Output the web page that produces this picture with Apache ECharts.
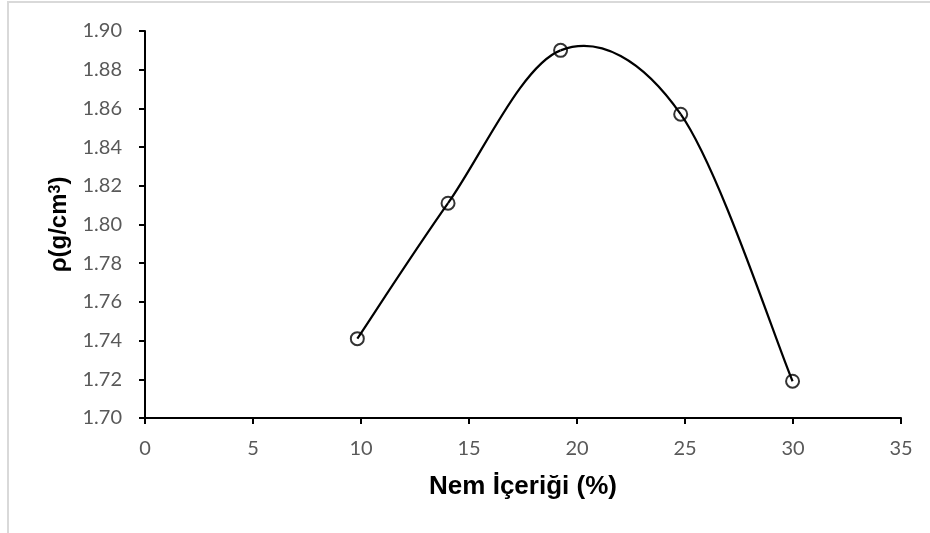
<!DOCTYPE html>
<html>
<head>
<meta charset="utf-8">
<script src="https://cdn.jsdelivr.net/npm/echarts@6/dist/echarts.min.js"></script>
<style>
  html, body { margin: 0; padding: 0; background: #fff; }
  #chart { width: 930px; height: 533px; }
</style>
</head>
<body>
<div id="chart"></div>
<script>
// nem içeriği (%) ve yoğunluk
var nem = [9.83, 14.03, 19.24, 24.8, 29.98];
var yogunluk = [1.741, 1.811, 1.890, 1.857, 1.719];
var xTitle = 'Nem İçeriği (%)';
var yTitle = '{b|ρ(g/cm}{s|3}{b|)}';

function drawChart(){
    var myChart = echarts.init(document.getElementById('chart'));
    var pts = [];
    for (var i = 0; i < nem.length; i++) {
        pts.push([nem[i], yogunluk[i]]);
    }
    var labelFont = { color: '#595959', fontSize: 20, fontFamily: 'Lato, "Open Sans", sans-serif' };
    var titleFont = '"Liberation Sans", Arial, sans-serif';

    // Excel tarzı yumuşak eğri: her parça için Catmull-Rom bezier
    function egri(params, api){
        var i = params.dataIndex;
        var n = pts.length;
        if (i >= n - 1) return null;
        var p0 = api.coord(pts[Math.max(i - 1, 0)]);
        var p1 = api.coord(pts[i]);
        var p2 = api.coord(pts[i + 1]);
        var p3 = api.coord(pts[Math.min(i + 2, n - 1)]);
        return {
            type: 'bezierCurve',
            shape: {
                x1: p1[0], y1: p1[1],
                x2: p2[0], y2: p2[1],
                cpx1: p1[0] + (p2[0] - p0[0]) / 6,
                cpy1: p1[1] + (p2[1] - p0[1]) / 6,
                cpx2: p2[0] - (p3[0] - p1[0]) / 6,
                cpy2: p2[1] - (p3[1] - p1[1]) / 6
            },
            style: { stroke: '#000', lineWidth: 2.2, fill: null }
        };
    }

    var option = {
        backgroundColor: '#fff',
        animation: false,
        graphic: [{
            type: 'rect',
            shape: { x: 8, y: 2, width: 960, height: 600 },
            style: { fill: 'none', stroke: '#d9d9d9', lineWidth: 2 },
            silent: true
        }],
        grid: { left: 145, right: 29, top: 31, bottom: 115 },
        xAxis: {
            type: 'value',
            min: 0, max: 35, interval: 5,
            name: xTitle,
            nameLocation: 'middle',
            nameGap: 56,
            nameTextStyle: { color: '#000', fontSize: 26, fontWeight: 'bold', fontFamily: titleFont },
            axisLine: { lineStyle: { color: '#000', width: 2 } },
            axisTick: { show: true, length: 6, lineStyle: { color: '#000', width: 2 } },
            axisLabel: Object.assign({ margin: 21 }, labelFont),
            splitLine: { show: false }
        },
        yAxis: {
            type: 'value',
            min: 1.70, max: 1.90, interval: 0.02,
            name: yTitle,
            nameLocation: 'middle',
            nameGap: 73,
            nameTextStyle: {
                color: '#000', fontFamily: titleFont,
                rich: {
                    b: { fontSize: 24, fontWeight: 'bold', fontFamily: titleFont, color: '#000' },
                    s: { fontSize: 16, fontWeight: 'bold', fontFamily: titleFont, color: '#000', verticalAlign: 'top', padding: [0, 0, 8, 0] }
                }
            },
            axisLine: { show: true, lineStyle: { color: '#000', width: 2 } },
            axisTick: { show: true, length: 6, lineStyle: { color: '#000', width: 2 } },
            axisLabel: Object.assign({
                margin: 23,
                formatter: function(v){ return v.toFixed(2); }
            }, labelFont),
            splitLine: { show: false }
        },
        series: [{
            type: 'custom',
            renderItem: egri,
            data: pts,
            z: 2
        }, {
            type: 'scatter',
            data: pts,
            symbol: 'circle',
            symbolSize: 13,
            itemStyle: { color: 'rgba(0,0,0,0)', borderColor: '#000', borderWidth: 2 },
            z: 3
        }]
    };
    myChart.setOption(option);
}
drawChart();
</script>
</body>
</html>
